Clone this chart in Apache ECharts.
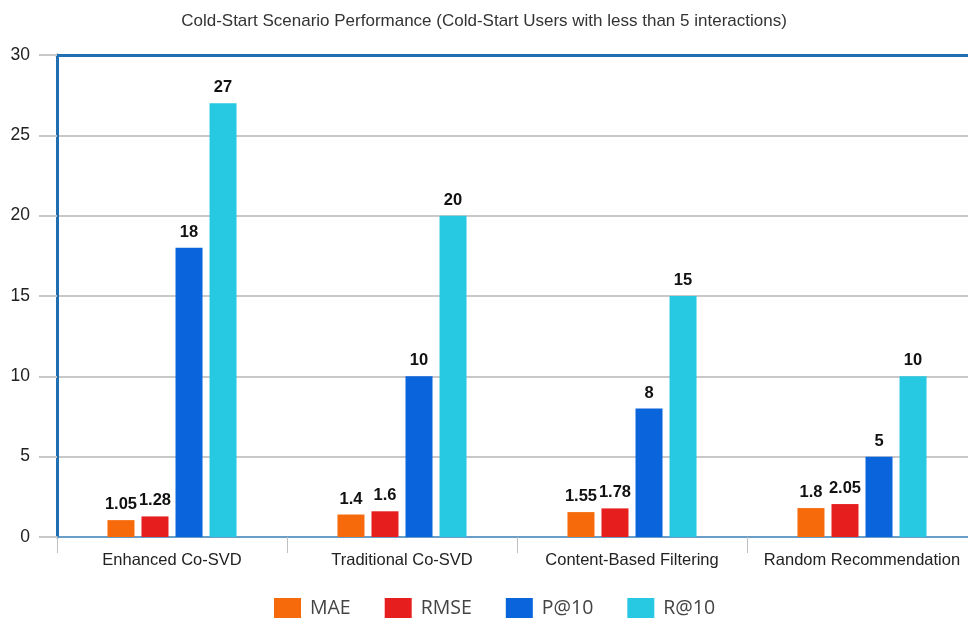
<!DOCTYPE html>
<html>
<head>
<meta charset="utf-8">
<script src="https://cdn.jsdelivr.net/npm/echarts@6/dist/echarts.min.js"></script>
<style>
  html, body { margin: 0; padding: 0; background: #fff; }
  #chart { width: 968px; height: 622px; }
</style>
</head>
<body>
<div id="chart"></div>
<script>
// Methods compared under the cold-start setting
const categories = ['Enhanced Co-SVD', 'Traditional Co-SVD', 'Content-Based Filtering', 'Random Recommendation'];

// Metric values per method
const mae  = [1.05, 1.4, 1.55, 1.8];
const rmse = [1.28, 1.6, 1.78, 2.05];
const p10  = [18, 10, 8, 5];
const r10  = [27, 20, 15, 10];

const seriesNames = ['MAE', 'RMSE', 'P@10', 'R@10'];
const seriesColors = ['#f76a0b', '#e61e1e', '#0a64dc', '#27c8e2'];
const seriesValues = [mae, rmse, p10, r10];

const frameColor = '#1f6fb2';

const chart = echarts.init(document.getElementById('chart'));

chart.setOption({
  backgroundColor: '#fff',
  animation: false,
  title: {
    text: 'Cold-Start Scenario Performance (Cold-Start Users with less than 5 interactions)',
    left: 'center',
    top: 8,
    textStyle: { fontFamily: 'Liberation Sans', fontSize: 17, fontWeight: 'normal', color: '#333' }
  },
  legend: {
    bottom: -1,
    left: 269,
    itemWidth: 27,
    itemHeight: 20,
    itemGap: 34,
    icon: 'rect',
    textStyle: { fontFamily: 'Open Sans', fontSize: 19.5, color: '#444', padding: [0, 0, 0, 4] },
    data: seriesNames
  },
  grid: {
    left: 57, top: 55, width: 920, bottom: 85,
    outerBoundsMode: 'none'
  },
  xAxis: [
    {
      type: 'category',
      data: categories,
      axisLine: { show: true, lineStyle: { color: '#4a90c8', width: 1.5 } },
      axisTick: { show: true, length: 16, lineStyle: { color: '#c0c0c0' } },
      axisLabel: { interval: 0, fontFamily: 'Liberation Sans', fontSize: 16.5, color: '#222', margin: 15 }
    },
    {
      // top edge of the plot frame
      type: 'category',
      position: 'top',
      data: categories,
      axisLine: { show: true, lineStyle: { color: frameColor, width: 3 } },
      axisTick: { show: false },
      axisLabel: { show: false }
    }
  ],
  yAxis: {
    type: 'value',
    min: 0, max: 30, interval: 5,
    axisLine: { show: true, lineStyle: { color: frameColor, width: 3 } },
    axisTick: { show: true, length: 18, lineStyle: { color: '#c8c8c8', width: 2 } },
    axisLabel: { fontFamily: 'Liberation Sans', fontSize: 17.5, color: '#222', margin: 27 },
    splitLine: { lineStyle: { color: '#c8c8c8', width: 2 } }
  },
  series: seriesNames.map((name, i) => ({
    name,
    type: 'bar',
    xAxisIndex: 0,
    data: seriesValues[i],
    barWidth: 27,
    barGap: '26%',
    itemStyle: { color: seriesColors[i] },
    label: {
      show: true,
      position: 'top',
      distance: 7,
      fontFamily: 'Liberation Sans',
      fontSize: 16.5,
      fontWeight: 'bold',
      color: '#111'
    }
  }))
});
</script>
</body>
</html>
